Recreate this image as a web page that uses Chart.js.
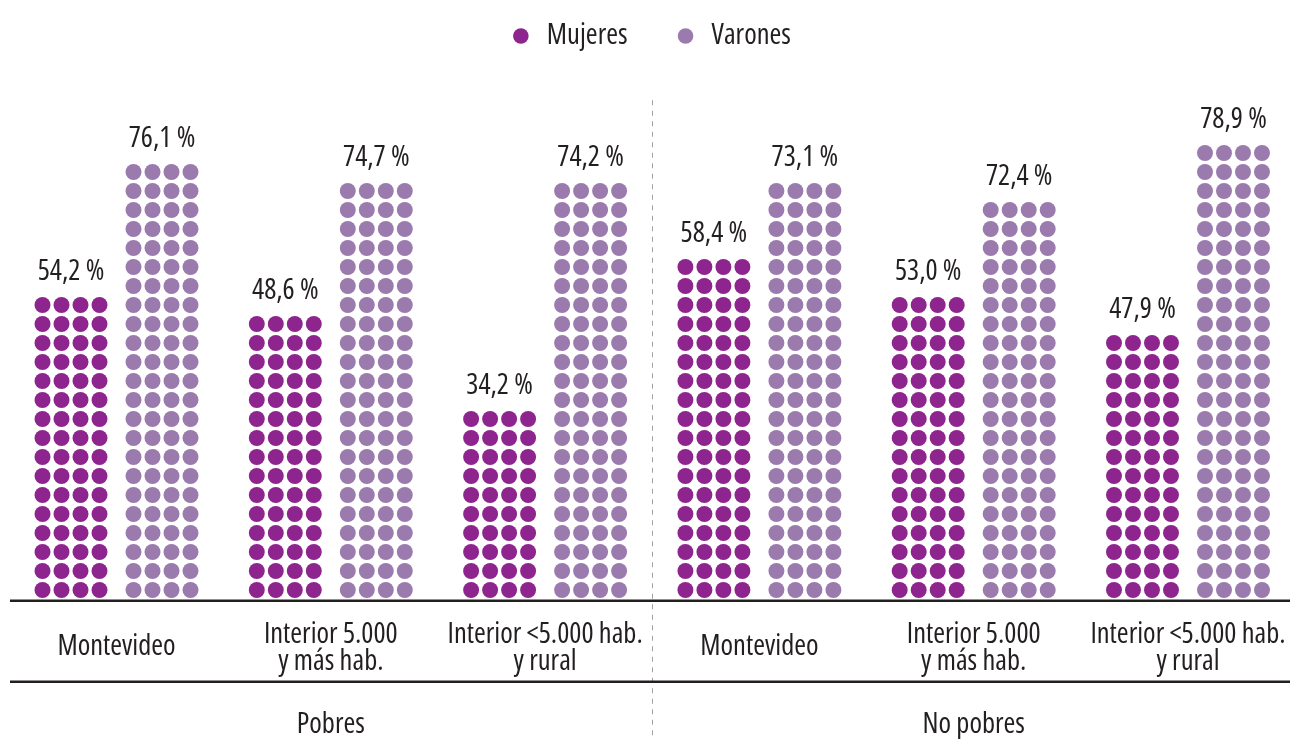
<!DOCTYPE html>
<html>
<head>
<meta charset="utf-8">
<script src="https://cdn.jsdelivr.net/npm/chart.js@4.4.1/dist/chart.umd.min.js"></script>
<style>
html,body{margin:0;padding:0;background:#fff;overflow:hidden}
#wrap{width:1290px;height:739px;position:relative}
</style>
</head>
<body>
<div id="wrap"><canvas id="c" width="1290" height="739"></canvas></div>
<script>
// ---- data ----
const CATEGORIES = [
  ["Montevideo"],
  ["Interior 5.000", "y más hab."],
  ["Interior <5.000 hab.", "y rural"],
  ["Montevideo"],
  ["Interior 5.000", "y más hab."],
  ["Interior <5.000 hab.", "y rural"]
];
const GROUPS = ["Pobres", "No pobres"];
const GROUP_CENTER_INDEX = [1, 4];
const SERIES = ["Mujeres", "Varones"];
const MUJERES = [54.2, 48.6, 34.2, 58.4, 53.0, 47.9];
const VARONES = [76.1, 74.7, 74.2, 73.1, 72.4, 78.9];
// number of dot rows (4 dots each) drawn in each stack
const MUJERES_ROWS = [16, 15, 10, 18, 16, 14];
const VARONES_ROWS = [23, 22, 22, 22, 21, 24];
const STEP = 3.3; // percent represented by one row of dots

// ---- style ----
const FAMILY = "'Open Sans','DejaVu Sans Condensed',sans-serif";
const FONT_SIZE = 28.5;
const CTX_FONT = 'normal condensed ' + FONT_SIZE + 'px ' + FAMILY;
const TEXT = '#231F20';
const COLORS = ['#8E248E', '#9B7AAE'];
const Y_MAX = 93.66;

const VALUES = [MUJERES, VARONES];
const ROWS = [MUJERES_ROWS, VARONES_ROWS];
const fmt = v => v.toFixed(1).replace('.', ',') + ' %';

const dotPlugin = {
  id: 'dots',
  beforeDatasetDraw() { return false; },
  afterDatasetsDraw(chart) {
    const {ctx, chartArea, scales: {x, y}} = chart;
    const W = chart.width;
    const base = y.getPixelForValue(0);
    const pitch = base - y.getPixelForValue(STEP);
    const r = pitch * 0.42;
    ctx.save();
    // dashed divider between groups
    ctx.strokeStyle = '#A0A0A0';
    ctx.lineWidth = 1;
    ctx.setLineDash([5, 5.5]);
    const xd = Math.round(x.getPixelForValue(2.5)) + 0.5;
    ctx.beginPath();
    ctx.moveTo(xd, chartArea.top + 40);
    ctx.lineTo(xd, chart.height);
    ctx.stroke();
    ctx.setLineDash([]);

    // dots and value labels
    chart.data.datasets.forEach((ds, s) => {
      const meta = chart.getDatasetMeta(s);
      meta.data.forEach((el, i) => {
        const n = ROWS[s][i];
        ctx.fillStyle = COLORS[s];
        for (let row = 0; row < n; row++) {
          for (let c = 0; c < 4; c++) {
            ctx.beginPath();
            ctx.arc(el.x + (c - 1.5) * pitch, base - (row + 0.5) * pitch, r, 0, Math.PI * 2);
            ctx.fill();
          }
        }
        const topY = base - (n - 0.5) * pitch;
        ctx.fillStyle = TEXT;
        ctx.font = CTX_FONT;
        ctx.textAlign = 'center';
        ctx.textBaseline = 'alphabetic';
        ctx.fillText(fmt(VALUES[s][i]), el.x, topY - 25);
      });
    });

    // axis lines
    ctx.strokeStyle = TEXT;
    ctx.lineWidth = 2.5;
    ctx.beginPath();
    ctx.moveTo(chartArea.left, base + 1.2);
    ctx.lineTo(W, base + 1.2);
    ctx.moveTo(chartArea.left, base + 82.2);
    ctx.lineTo(W, base + 82.2);
    ctx.stroke();

    // category labels
    ctx.fillStyle = TEXT;
    ctx.font = CTX_FONT;
    ctx.textAlign = 'center';
    ctx.textBaseline = 'alphabetic';
    CATEGORIES.forEach((lines, i) => {
      const cx = x.getPixelForValue(i);
      if (lines.length === 1) {
        ctx.fillText(lines[0], cx, base + 55.5);
      } else {
        ctx.fillText(lines[0], cx, base + 43.5);
        ctx.fillText(lines[1], cx, base + 70.5);
      }
    });
    // group labels
    GROUPS.forEach((g, k) => {
      ctx.fillText(g, x.getPixelForValue(GROUP_CENTER_INDEX[k]), base + 133.5);
    });
    ctx.restore();
  }
};

new Chart(document.getElementById('c'), {
  type: 'bar',
  data: {
    datasets: SERIES.map((name, s) => ({
      label: name,
      data: VALUES[s].map((v, i) => ({x: i, y: v})),
      backgroundColor: COLORS[s],
      borderWidth: 0,
      barThickness: 91,
      maxBarThickness: 73
    }))
  },
  options: {
    responsive: false,
    animation: false,
    devicePixelRatio: 1,
    layout: {padding: {top: -24.5, bottom: 139.5, left: 10, right: 0}},
    plugins: {
      tooltip: {enabled: false},
      legend: {
        display: true,
        position: 'top',
        align: 'center',
        labels: {
          usePointStyle: true,
          pointStyle: 'circle',
          boxWidth: 23.5,
          boxHeight: 11,
          padding: 46.25,
          color: TEXT,
          font: {family: FAMILY, size: FONT_SIZE, weight: 'condensed'}
        }
      }
    },
    scales: {
      x: {type: 'linear', min: -0.497, max: 5.476, offset: false, display: false,
          grid: {display: false, offset: false}, ticks: {stepSize: 1, includeBounds: false}},
      y: {min: 0, max: Y_MAX, display: false, grid: {display: false}}
    }
  },
  plugins: [dotPlugin]
});
</script>
</body>
</html>
